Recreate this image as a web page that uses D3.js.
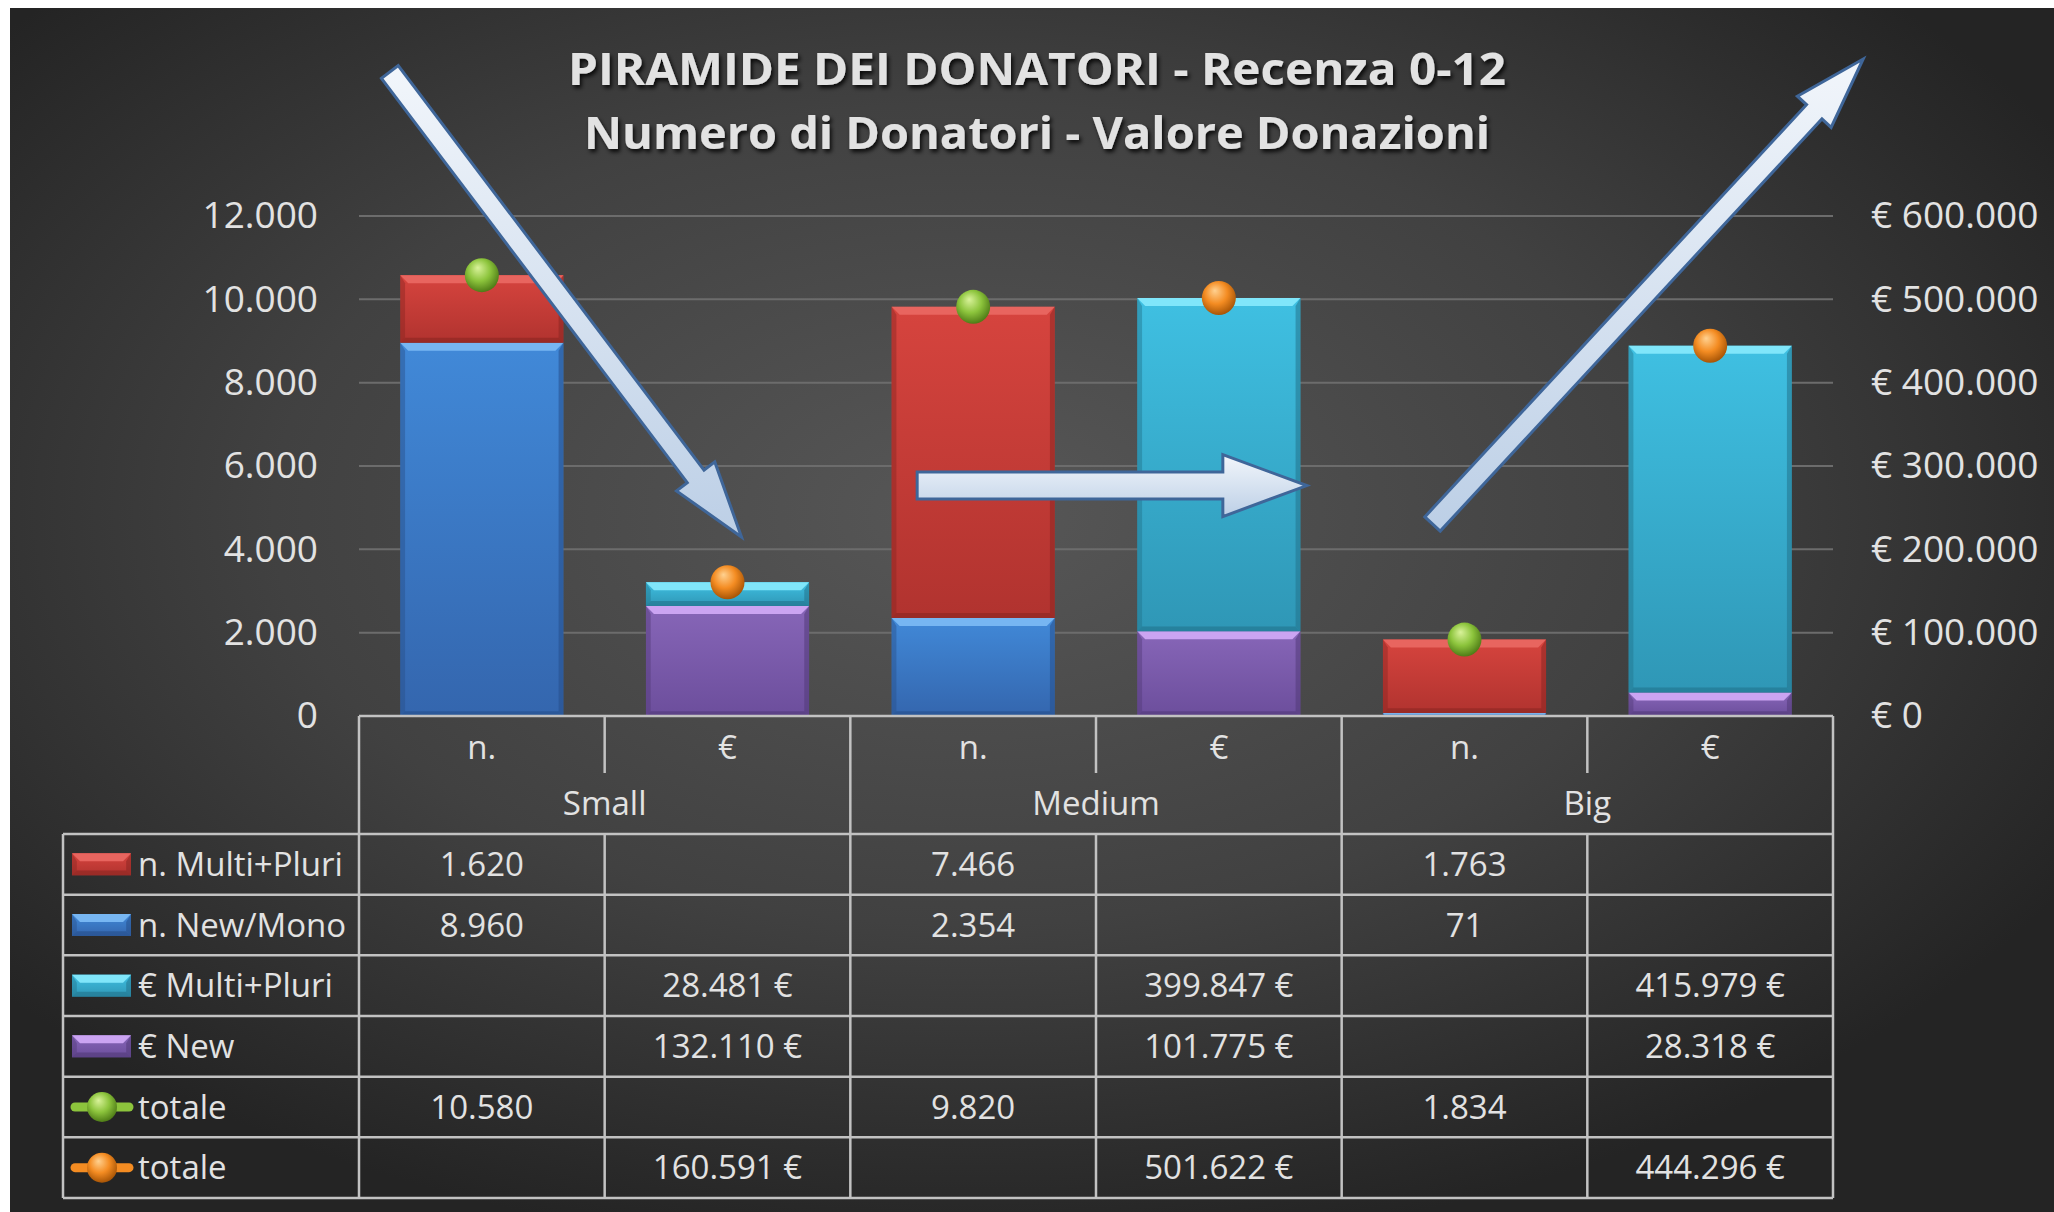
<!DOCTYPE html>
<html lang="it">
<head>
<meta charset="UTF-8">
<style>
    body { margin: 0; background: #fff; }
    svg { display: block; }
    text { font-family: "Open Sans", sans-serif; fill: #e2e2e2; }
    .grid line { stroke: #6c6c6c; stroke-width: 2; }
    .table line { stroke: #c2c2c2; stroke-width: 2.5; }
</style>
<script src="https://cdn.jsdelivr.net/npm/d3@7"></script>
</head>
<body>
<svg id="chart" width="2054" height="1212"></svg>
<script>
    // data
    var groups = ["Small", "Medium", "Big"];
    var measures = ["n.", "€"];
    var nMultiPluri = [1620, 7466, 1763];
    var nNewMono = [8960, 2354, 71];
    var eMultiPluri = [28481, 399847, 415979];
    var eNew = [132110, 101775, 28318];
    var nTotale = [10580, 9820, 1834];
    var eTotale = [160591, 501622, 444296];
    var leftTicks = [0, 2000, 4000, 6000, 8000, 10000, 12000];
    var rightTicks = [0, 100000, 200000, 300000, 400000, 500000, 600000];
    var titleLines = ["PIRAMIDE DEI DONATORI - Recenza 0-12", "Numero di Donatori - Valore Donazioni"];

    var it = d3.formatLocale({decimal: ",", thousands: ".", grouping: [3], currency: ["€ ", ""]});
    var fmt = it.format(",d");

    var svg = d3.select("#chart");
    var defs = svg.append("defs");

    var plotLeft = 359, plotRight = 1833, plotTop = 216, plotBottom = 716;
    var tableLeft = 63, headerBottom = 834, tableBottom = 1198;

    var columns = [];
    groups.forEach(function(g) { measures.forEach(function(m) { columns.push(g + "|" + m); }); });

    var x = d3.scaleBand().domain(columns).range([plotLeft, plotRight]).paddingInner(0.336).paddingOuter(0.168);
    var cell = d3.scaleBand().domain(columns).range([plotLeft, plotRight]);
    var yL = d3.scaleLinear().domain([0, 12000]).range([plotBottom, plotTop]);
    var yR = d3.scaleLinear().domain([0, 600000]).range([plotBottom, plotTop]);

    function cx(col) { return x(col) + x.bandwidth() / 2; }

    // background
    var bg = defs.append("radialGradient").attr("id", "bg").attr("cx", "47%").attr("cy", "42%").attr("r", "62%");
    bg.append("stop").attr("offset", "0").attr("stop-color", "#575757");
    bg.append("stop").attr("offset", "0.55").attr("stop-color", "#414141");
    bg.append("stop").attr("offset", "1").attr("stop-color", "#242424");
    svg.append("rect").attr("x", 10).attr("y", 8).attr("width", 2044).attr("height", 1204).attr("fill", "url(#bg)");

    var shadow = defs.append("filter").attr("id", "shadow").attr("x", "-5%").attr("y", "-30%").attr("width", "110%").attr("height", "160%");
    shadow.append("feDropShadow").attr("dx", 2).attr("dy", 3).attr("stdDeviation", 2).attr("flood-color", "#000").attr("flood-opacity", 0.85);

    var palette = {
        red:    {light: "#e8655f", top: "#d6443e", bottom: "#b1332f", edge: "#8a2622"},
        blue:   {light: "#77b6f2", top: "#4189d8", bottom: "#3466ae", edge: "#274f8a"},
        cyan:   {light: "#80e6fa", top: "#3fc0e2", bottom: "#2f97b6", edge: "#22738c"},
        purple: {light: "#cba4f2", top: "#8766b8", bottom: "#6c4e9c", edge: "#523a78"}
    };
    Object.keys(palette).forEach(function(k) {
        var c = palette[k];
        var lg = defs.append("linearGradient").attr("id", "g-" + k).attr("x1", 0).attr("y1", 0).attr("x2", 0).attr("y2", 1);
        lg.append("stop").attr("offset", 0).attr("stop-color", c.top);
        lg.append("stop").attr("offset", 1).attr("stop-color", c.bottom);
    });

    var spheres = {
        green:  ["#d9f29a", "#8cc43c", "#4f7c17"],
        orange: ["#ffd190", "#f48c22", "#a85506"]
    };
    Object.keys(spheres).forEach(function(k) {
        var rg = defs.append("radialGradient").attr("id", "s-" + k).attr("cx", "45%").attr("cy", "40%").attr("r", "60%").attr("fx", "38%").attr("fy", "28%");
        rg.append("stop").attr("offset", 0).attr("stop-color", spheres[k][0]);
        rg.append("stop").attr("offset", 0.55).attr("stop-color", spheres[k][1]);
        rg.append("stop").attr("offset", 1).attr("stop-color", spheres[k][2]);
    });

    var arrowGrad = defs.append("linearGradient").attr("id", "arrow").attr("x1", 0).attr("y1", 0).attr("x2", 0).attr("y2", 1);
    arrowGrad.append("stop").attr("offset", 0).attr("stop-color", "#f2f6fb");
    arrowGrad.append("stop").attr("offset", 1).attr("stop-color", "#bccfe6");

    function bevelRect(g, x0, y0, w, h, key) {
        var c = palette[key];
        var b = Math.min(8, h / 2);
        g.append("rect").attr("x", x0).attr("y", y0).attr("width", w).attr("height", h).attr("fill", "url(#g-" + key + ")");
        g.append("polygon").attr("fill", c.light)
            .attr("points", [[x0, y0], [x0 + w, y0], [x0 + w - b, y0 + b], [x0 + b, y0 + b]].join(" "));
        g.append("polygon").attr("fill", c.edge).attr("opacity", 0.45)
            .attr("points", [[x0, y0], [x0 + b * 0.6, y0 + b], [x0 + b * 0.6, y0 + h - b * 0.6], [x0, y0 + h]].join(" "));
        g.append("polygon").attr("fill", c.edge).attr("opacity", 0.55)
            .attr("points", [[x0 + w, y0], [x0 + w - b * 0.6, y0 + b], [x0 + w - b * 0.6, y0 + h - b * 0.6], [x0 + w, y0 + h]].join(" "));
        g.append("polygon").attr("fill", c.edge).attr("opacity", 0.6)
            .attr("points", [[x0, y0 + h], [x0 + b * 0.6, y0 + h - b * 0.6], [x0 + w - b * 0.6, y0 + h - b * 0.6], [x0 + w, y0 + h]].join(" "));
    }

    // title
    titleLines.forEach(function(t, i) {
        svg.append("text").attr("x", 1037).attr("y", 69 + i * 64).attr("dy", "0.36em")
            .attr("text-anchor", "middle").attr("font-size", 44).attr("font-weight", "bold")
            .attr("textLength", i === 0 ? 938 : 906).attr("lengthAdjust", "spacingAndGlyphs")
            .attr("fill", "#f2f2f2").attr("filter", "url(#shadow)").text(t);
    });

    // gridlines and axes
    svg.append("g").attr("class", "grid").selectAll("line")
        .data(leftTicks.filter(function(d) { return d > 0; })).enter().append("line")
        .attr("x1", plotLeft).attr("x2", plotRight)
        .attr("y1", function(d) { return yL(d); }).attr("y2", function(d) { return yL(d); });

    var axisL = svg.append("g").attr("transform", "translate(318,0)")
        .call(d3.axisLeft(yL).tickValues(leftTicks).tickSize(0).tickPadding(0).tickFormat(fmt));
    var axisR = svg.append("g").attr("transform", "translate(1871,0)")
        .call(d3.axisRight(yR).tickValues(rightTicks).tickSize(0).tickPadding(0).tickFormat(it.format("$,d")));
    [axisL, axisR].forEach(function(a) {
        a.select(".domain").remove();
        a.selectAll("text").attr("font-size", 37).attr("fill", "#e2e2e2").attr("font-family", "Open Sans, sans-serif");
    });

    // stacked bars
    var bars = svg.append("g");
    groups.forEach(function(g, i) {
        var cn = g + "|n.", ce = g + "|€";
        bevelRect(bars, x(cn), yL(nNewMono[i]), x.bandwidth(), yL(0) - yL(nNewMono[i]), "blue");
        bevelRect(bars, x(cn), yL(nNewMono[i] + nMultiPluri[i]), x.bandwidth(), yL(nNewMono[i]) - yL(nNewMono[i] + nMultiPluri[i]), "red");
        bevelRect(bars, x(ce), yR(eNew[i]), x.bandwidth(), yR(0) - yR(eNew[i]), "purple");
        bevelRect(bars, x(ce), yR(eNew[i] + eMultiPluri[i]), x.bandwidth(), yR(eNew[i]) - yR(eNew[i] + eMultiPluri[i]), "cyan");
    });

    // totale markers
    var marks = svg.append("g");
    groups.forEach(function(g, i) {
        marks.append("circle").attr("cx", cx(g + "|n.")).attr("cy", yL(nTotale[i])).attr("r", 17).attr("fill", "url(#s-green)");
        marks.append("circle").attr("cx", cx(g + "|€")).attr("cy", yR(eTotale[i])).attr("r", 17).attr("fill", "url(#s-orange)");
    });

    // arrows (decoration), placed from the scales
    function arrow(tail, tip, sw, hl, hw) {
        var dx = tip[0] - tail[0], dy = tip[1] - tail[1];
        var len = Math.sqrt(dx * dx + dy * dy);
        var ux = dx / len, uy = dy / len, px = -uy, py = ux;
        var bx = tip[0] - ux * hl, by = tip[1] - uy * hl;
        var pts = [
            [tail[0] + px * sw, tail[1] + py * sw],
            [bx + px * sw, by + py * sw],
            [bx + px * hw, by + py * hw],
            tip,
            [bx - px * hw, by - py * hw],
            [bx - px * sw, by - py * sw],
            [tail[0] - px * sw, tail[1] - py * sw]
        ];
        svg.append("polygon").attr("points", pts.map(function(p) { return p.join(","); }).join(" "))
            .attr("fill", "url(#arrow)").attr("stroke", "#3f6699").attr("stroke-width", 3).attr("stroke-linejoin", "miter");
    }
    arrow([cx("Small|n.") - 92, yL(15456)], [cx("Small|€") + 14, yL(4296)], 10.5, 76, 24);
    arrow([cx("Medium|n.") - 56, yL(5530)], [cx("Medium|€") + 88, yL(5530)], 13.5, 84, 31);
    arrow([cx("Big|n.") - 32, yL(4608)], [cx("Big|€") + 153, yL(15768)], 10.5, 72, 23);

    // data table
    var table = svg.append("g").attr("class", "table");
    var rowH = (tableBottom - headerBottom) / 6;
    var groupEdges = [0, 2, 4].map(function(k) { return cell(columns[k]); }).concat([plotRight]);
    var innerEdges = [1, 3, 5].map(function(k) { return cell(columns[k]); });

    table.append("line").attr("x1", plotLeft).attr("x2", plotRight).attr("y1", plotBottom).attr("y2", plotBottom);
    d3.range(7).forEach(function(r) {
        var yy = headerBottom + r * rowH;
        table.append("line").attr("x1", tableLeft).attr("x2", plotRight).attr("y1", yy).attr("y2", yy);
    });
    table.append("line").attr("x1", tableLeft).attr("x2", tableLeft).attr("y1", headerBottom).attr("y2", tableBottom);
    groupEdges.forEach(function(xx) {
        table.append("line").attr("x1", xx).attr("x2", xx).attr("y1", plotBottom).attr("y2", tableBottom);
    });
    innerEdges.forEach(function(xx) {
        table.append("line").attr("x1", xx).attr("x2", xx).attr("y1", plotBottom).attr("y2", 773);
        table.append("line").attr("x1", xx).attr("x2", xx).attr("y1", headerBottom).attr("y2", tableBottom);
    });

    columns.forEach(function(c) {
        table.append("text").attr("x", cell(c) + cell.bandwidth() / 2).attr("y", 747).attr("dy", "0.35em")
            .attr("text-anchor", "middle").attr("font-size", 33).text(c.split("|")[1]);
    });
    groups.forEach(function(g) {
        table.append("text").attr("x", cell(g + "|€")).attr("y", 803).attr("dy", "0.35em")
            .attr("text-anchor", "middle").attr("font-size", 33).text(g);
    });

    var rows = [
        {label: "n. Multi+Pluri", values: nMultiPluri, measure: "n.", key: "red"},
        {label: "n. New/Mono", values: nNewMono, measure: "n.", key: "blue"},
        {label: "€ Multi+Pluri", values: eMultiPluri, measure: "€", key: "cyan"},
        {label: "€ New", values: eNew, measure: "€", key: "purple"},
        {label: "totale", values: nTotale, measure: "n.", sphere: "green", line: "#8cc43c"},
        {label: "totale", values: eTotale, measure: "€", sphere: "orange", line: "#f48c22"}
    ];
    rows.forEach(function(row, r) {
        var yc = headerBottom + rowH * (r + 0.5);
        if (row.key) {
            bevelRect(table, 72, yc - 11, 59, 22, row.key);
        } else {
            table.append("line").attr("x1", 75).attr("x2", 129).attr("y1", yc).attr("y2", yc)
                .style("stroke", row.line).style("stroke-width", 9).style("stroke-linecap", "round");
            table.append("circle").attr("cx", 102).attr("cy", yc).attr("r", 15).attr("fill", "url(#s-" + row.sphere + ")");
        }
        table.append("text").attr("x", 138).attr("y", yc).attr("dy", "0.35em").attr("font-size", 33).text(row.label);
        groups.forEach(function(g, i) {
            var c = g + "|" + row.measure;
            table.append("text").attr("x", cell(c) + cell.bandwidth() / 2).attr("y", yc).attr("dy", "0.35em")
                .attr("text-anchor", "middle").attr("font-size", 33)
                .text(row.measure === "€" ? fmt(row.values[i]) + " €" : fmt(row.values[i]));
        });
    });
</script>
</body>
</html>
